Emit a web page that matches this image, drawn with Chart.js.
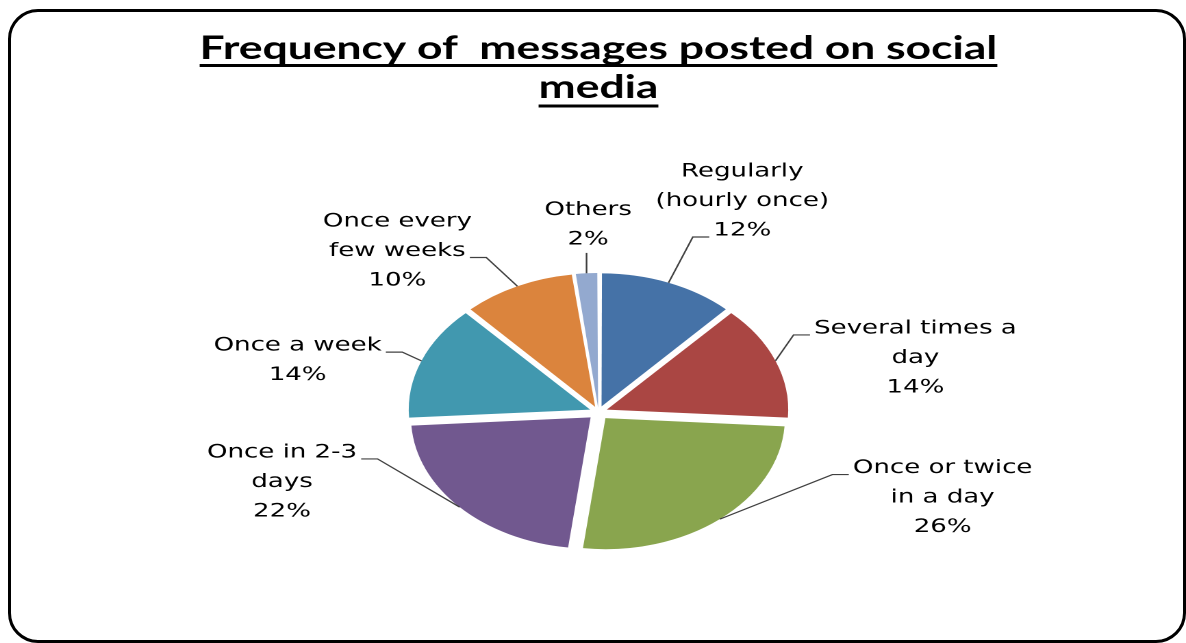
<!DOCTYPE html>
<html>
<head>
<meta charset="utf-8">
<title>Frequency of messages posted on social media</title>
<script src="https://cdn.jsdelivr.net/npm/chart.js@4.4.1/dist/chart.umd.min.js"></script>
<style>
  html, body { margin: 0; padding: 0; background: #fff; overflow: hidden; }
  #frame { position: absolute; left: 8px; top: 9px; width: 1178px; height: 634px; box-sizing: border-box;
           border: 3px solid #000; border-radius: 30px; }
  /* the reference picture is stretched sideways, so the chart is too */
  #wrap { position: absolute; left: 0; top: 0; width: 866px; height: 643px;
          transform: scaleX(1.3695); transform-origin: 0 0; }
</style>
</head>
<body>
<div id="frame"></div>
<div id="wrap"><canvas id="myChart"></canvas></div>
<script>
var categories = [["Regularly", "(hourly once)"], ["Several times a", "day"], ["Once or twice", "in a day"],
                  ["Once in 2-3", "days"], ["Once a week"], ["Once every", "few weeks"], ["Others"]];
var percent = [12, 14, 26, 22, 14, 10, 2];
var colours = ["#4572A7", "#AA4643", "#89A54E", "#71588F", "#4198AF", "#DB843D", "#93A9CF"];
var title = ["Frequency of  messages posted on social", "media"];

// where each data label sits: [degrees clockwise from top, distance from pie centre]
var labelPlace = [[26.3, 237], [76.5, 238], [108.5, 265], [253.5, 241], [283.6, 226], [317.9, 219], [357.7, 189]];
// which text row the leader line joins (-1 = from below)
var leaderRow = [2, 0, 0, 0, 0, 1, -1];
var explode = 8;
var titleLine = 39;

var total = percent.reduce(function (a, b) { return a + b; }, 0);

// chart.js moves a slice by offset/4*(1+fix), so undo that to get an even explode
function sliceOffset(c) {
  if (c.raw === undefined) return 0;
  var circ = c.raw / total * Math.PI * 2;
  var fix = 1 - Math.sin(Math.min(Math.PI, circ));
  return explode * 4 / (1 + fix);
}

var underlineTitle = {
  id: 'underlineTitle',
  afterDraw: function (chart) {
    var tb = chart.titleBlock;
    var o = tb.options;
    var ctx = chart.ctx;
    ctx.save();
    ctx.font = 'bold ' + o.font.size + 'px ' + o.font.family;
    ctx.strokeStyle = '#000';
    ctx.lineWidth = 3;
    var cx = (tb.left + tb.right) / 2;
    title.forEach(function (t, k) {
      var w = ctx.measureText(t).width;
      var base = tb.top + o.padding.top + titleLine / 2 + k * titleLine + 0.387 * o.font.size;
      var y = base + 4.5 + k * 1.5;
      ctx.beginPath();
      ctx.moveTo(cx - w / 2, y);
      ctx.lineTo(cx + w / 2, y);
      ctx.stroke();
    });
    ctx.restore();
  }
};

var leaderLabels = {
  id: 'leaderLabels',
  afterDatasetsDraw: function (chart) {
    var ctx = chart.ctx;
    var meta = chart.getDatasetMeta(0);
    var lineH = 29.5;
    ctx.save();
    ctx.font = '19px "DejaVu Sans"';
    ctx.textAlign = 'center';
    ctx.textBaseline = 'middle';
    ctx.fillStyle = '#000';
    ctx.strokeStyle = '#404040';
    ctx.lineWidth = 1.2;
    meta.data.forEach(function (arc, i) {
      var p = arc.getProps(['x', 'y', 'startAngle', 'endAngle', 'outerRadius'], true);
      var mid = (p.startAngle + p.endAngle) / 2;
      var ex = p.x + Math.cos(mid) * (p.outerRadius + explode);
      var ey = p.y + Math.sin(mid) * (p.outerRadius + explode);
      var a = (labelPlace[i][0] - 90) * Math.PI / 180;
      var lx = p.x + Math.cos(a) * labelPlace[i][1];
      var ly = p.y + Math.sin(a) * labelPlace[i][1];
      var lines = categories[i].concat([percent[i] + '%']);
      var top = ly - (lines.length - 1) * lineH / 2;
      lines.forEach(function (t, k) { ctx.fillText(t, lx, top + k * lineH + 1.5); });
      ctx.beginPath();
      ctx.moveTo(ex, ey);
      var r = leaderRow[i];
      if (r < 0) {
        ctx.lineTo(ex, top + (lines.length - 1) * lineH + 15);
      } else {
        var w = ctx.measureText(lines[r]).width;
        var hy = top + r * lineH + 8;
        var tx = lx > ex ? lx - w / 2 - 3 : lx + w / 2 + 3;
        var bx = lx > ex ? tx - 12 : tx + 12;
        ctx.lineTo(bx, hy);
        ctx.lineTo(tx, hy);
      }
      ctx.stroke();
    });
    ctx.restore();
  }
};

var ctx = document.getElementById("myChart");
var myChart = new Chart(ctx, {
  type: 'pie',
  data: {
    labels: categories,
    datasets: [{
      data: percent,
      backgroundColor: colours,
      borderWidth: 0,
      offset: sliceOffset,
      hoverOffset: 0
    }]
  },
  options: {
    responsive: true,
    maintainAspectRatio: false,
    animation: false,
    devicePixelRatio: 2,
    events: [],
    radius: 131,
    layout: { padding: { left: 8, right: 0, top: 0, bottom: 0 } },
    plugins: {
      legend: { display: false },
      tooltip: { enabled: false },
      title: {
        display: true,
        text: title,
        color: '#000',
        font: { family: 'Lato', size: 32.4, weight: 'bold', lineHeight: titleLine + 'px' },
        padding: { top: 29, bottom: 74 }
      }
    }
  },
  plugins: [underlineTitle, leaderLabels]
});
</script>
</body>
</html>
